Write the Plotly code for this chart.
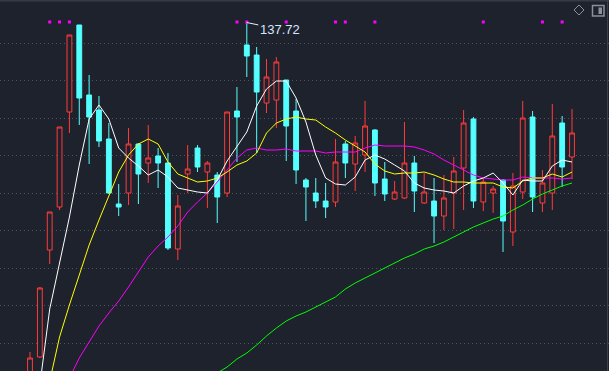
import plotly.graph_objects as go

# ---------------- data ----------------
idx = list(range(56))
opens = [67.22, 70.82, 92.22, 100.82, 119.82, 137.22, 123.22, 120.22, 114.42, 101.42,
         103.62, 113.42, 109.62, 111.02, 109.62, 92.42, 107.42, 112.62, 107.82, 107.22,
         103.62, 120.02, 133.22, 131.22, 121.62, 122.22, 126.22, 120.02, 106.22, 103.62,
         102.02, 101.82, 113.42, 109.42, 111.22, 116.22, 106.42, 102.42, 102.62, 109.62,
         101.62, 102.02, 99.02, 103.62, 108.62, 118.42, 101.82, 103.62, 106.22, 95.82,
         103.82, 118.82, 101.62, 103.62, 117.62, 110.82]
highs = [71.82, 84.82, 99.82, 116.82, 135.22, 137.22, 127.22, 123.02, 117.62, 105.42,
         116.62, 113.62, 117.22, 112.62, 111.62, 103.22, 113.22, 113.22, 110.02, 107.82,
         119.82, 124.82, 137.72, 132.82, 130.42, 130.82, 126.22, 122.42, 106.62, 106.62,
         105.62, 114.42, 114.02, 115.02, 122.02, 116.42, 109.82, 106.02, 117.82, 111.02,
         107.62, 106.62, 107.22, 110.82, 120.22, 118.82, 106.42, 105.02, 106.42, 107.62,
         122.02, 120.02, 108.22, 121.42, 119.02, 120.42]
lows = [66.22, 70.62, 89.42, 100.22, 115.62, 117.22, 109.42, 112.82, 103.42, 99.02,
        101.22, 101.42, 105.62, 104.62, 92.22, 90.22, 103.62, 107.82, 100.62, 97.62,
        102.82, 109.82, 126.82, 111.62, 119.62, 116.62, 110.02, 105.42, 98.02, 100.62,
        98.62, 100.82, 106.62, 104.02, 107.82, 103.02, 102.02, 102.22, 102.42, 99.82,
        101.42, 93.62, 96.22, 96.42, 100.22, 100.62, 100.02, 99.62, 91.82, 93.02,
        102.42, 99.82, 99.82, 100.22, 104.82, 106.42]
closes = [70.62, 84.62, 99.82, 116.82, 135.22, 122.62, 118.82, 114.02, 103.62, 100.82,
          113.42, 107.42, 110.62, 109.62, 92.62, 101.02, 108.42, 108.82, 109.62, 102.82,
          119.82, 118.82, 131.02, 123.82, 126.82, 129.82, 117.02, 108.22, 104.82, 102.02,
          100.82, 109.82, 109.62, 113.62, 117.02, 105.62, 103.42, 103.82, 109.62, 104.02,
          103.82, 99.02, 102.62, 108.02, 117.62, 102.02, 105.82, 104.42, 98.02, 105.02,
          118.62, 102.82, 105.62, 115.02, 108.82, 115.62]

ma5 = [52.22, 65.22, 80.42, 89.82, 98.82, 109.22, 118.42, 121.22, 118.42, 112.62,
       110.62, 109.02, 107.22, 108.22, 106.82, 104.62, 104.22, 103.82, 103.62, 106.22,
       110.02, 112.82, 115.82, 121.02, 124.42, 126.02, 126.02, 122.62, 117.82, 111.22,
       106.62, 105.42, 105.22, 106.82, 110.22, 111.22, 110.42, 109.22, 108.02, 105.62,
       104.62, 104.22, 104.02, 103.62, 105.02, 106.02, 106.62, 107.62, 105.62, 103.22,
       106.22, 106.02, 106.02, 109.02, 110.22, 109.82]
ma10 = [48.22, 57.22, 65.82, 74.82, 81.22, 87.22, 93.22, 98.22, 103.02, 107.82,
        111.22, 113.42, 114.42, 113.42, 109.82, 107.42, 106.62, 105.82, 106.02, 106.62,
        107.82, 109.22, 110.02, 111.62, 115.62, 117.62, 118.42, 118.82, 118.42, 118.22,
        116.82, 115.62, 114.22, 113.02, 111.82, 109.42, 108.02, 107.42, 107.62, 107.62,
        107.82, 107.22, 106.42, 105.82, 105.82, 105.62, 105.62, 105.62, 104.82, 104.62,
        106.02, 106.62, 106.62, 107.42, 106.82, 107.82]
ma20 = [49.82, 54.22, 58.62, 62.62, 66.62, 70.62, 73.82, 77.02, 79.62, 82.02,
        84.82, 87.82, 90.82, 93.02, 94.82, 97.02, 99.82, 101.82, 103.62, 105.82,
        108.22, 110.62, 112.22, 112.62, 112.22, 112.22, 112.42, 112.02, 112.02, 112.02,
        111.62, 111.82, 111.82, 111.82, 112.62, 113.22, 113.02, 113.02, 113.02, 112.82,
        112.22, 111.42, 110.22, 109.22, 108.22, 107.22, 106.62, 106.42, 106.22, 106.22,
        106.82, 106.62, 106.62, 106.62, 106.42, 106.62]
ma60 = [None] * 18 + [
        65.82, 67.62,
        68.82, 70.42, 71.62, 73.22, 75.02, 76.62, 78.02, 79.02, 79.82, 80.82,
        81.82, 82.82, 84.42, 85.62, 86.62, 87.62, 88.62, 89.62, 90.62, 91.42,
        92.42, 93.02, 93.82, 94.82, 95.82, 96.82, 97.62, 98.42, 99.02, 100.22,
        101.22, 102.42, 103.42, 104.22, 105.02, 105.62]

signal_idx = [2, 3, 4, 21, 22, 26, 31, 32, 35, 46, 52, 54]
grid_levels = [133.62, 126.12, 118.62, 111.12, 103.62, 96.12, 88.62, 81.12, 73.62]
peak_idx = 22
peak_value = 137.72

# ---------------- style ----------------
BG = "#1e222d"
RED = "#ff3b3b"
CYAN = "#54ffff"

fig = go.Figure()
fig.add_trace(go.Candlestick(
    x=idx, open=opens, high=highs, low=lows, close=closes,
    increasing=dict(line=dict(color=RED, width=1), fillcolor=BG),
    decreasing=dict(line=dict(color=CYAN, width=1), fillcolor=CYAN),
    whiskerwidth=0, hoverinfo="skip", showlegend=False))

for vals, col in [(ma60, "#00ff00"), (ma20, "#ff00ff"), (ma10, "#ffff00"), (ma5, "#ffffff")]:
    fig.add_trace(go.Scatter(x=idx, y=vals, mode="lines",
                             line=dict(color=col, width=1), hoverinfo="skip",
                             showlegend=False, connectgaps=False))

fig.add_trace(go.Scatter(x=signal_idx, y=[137.82] * len(signal_idx), mode="markers",
                         marker=dict(symbol="square", size=3, color="#ff00ff", line=dict(width=0)),
                         hoverinfo="skip", showlegend=False))

fig.add_annotation(x=peak_idx, y=peak_value, text=f"{peak_value:.2f}",
                   showarrow=True, arrowhead=0, arrowwidth=1, arrowcolor="#e8eef8",
                   ax=33, ay=7, font=dict(family="Liberation Sans, Arial", size=13, color="#d6e6ff"),
                   standoff=0, startstandoff=0)

# top-right icons
W, H = 609, 371
def px(x, y):
    return x / W, 1 - y / H
d = [px(574, 10), px(579, 5), px(584, 10), px(579, 15)]
fig.add_shape(type="path", xref="paper", yref="paper",
              path="M {} {} L {} {} L {} {} L {} {} Z".format(*[v for p in d for v in p]),
              line=dict(color="#8b9099", width=1))
x0, y0 = px(592.5, 16); x1, y1 = px(604, 5.5)
fig.add_shape(type="rect", xref="paper", yref="paper", x0=x0, y0=y0, x1=x1, y1=y1,
              line=dict(color="#8b9099", width=1.5))
x0, y0 = px(598.5, 14); x1, y1 = px(602, 7.5)
fig.add_shape(type="rect", xref="paper", yref="paper", x0=x0, y0=y0, x1=x1, y1=y1,
              line=dict(width=0), fillcolor="#8b9099")
# frame lines
fig.add_shape(type="line", xref="paper", yref="paper", x0=0, x1=1, y0=1 - 0.8 / H, y1=1 - 0.8 / H,
              line=dict(color="#363a45", width=1.5))
fig.add_shape(type="line", xref="paper", yref="paper", x0=607.5 / W, x1=607.5 / W, y0=0, y1=1,
              line=dict(color="#3c404b", width=1))

fig.update_layout(
    width=W, height=H, margin=dict(l=0, r=0, t=0, b=0),
    paper_bgcolor=BG, plot_bgcolor=BG,
    xaxis=dict(range=[-3.044, 58.754], showgrid=False, zeroline=False, showticklabels=False,
               rangeslider=dict(visible=False), fixedrange=True),
    yaxis=dict(range=[68.02, 142.22], tickvals=grid_levels, showticklabels=False,
               showgrid=True, gridcolor="#50545e", griddash="1px,3px", gridwidth=1,
               zeroline=False, fixedrange=True),
    hovermode=False,
)
fig.write_html("out.html", config=dict(displayModeBar=False),
               post_script="document.body.style.margin='0';document.body.style.overflow='hidden';"
                           "document.body.style.background='#1e222d';")
